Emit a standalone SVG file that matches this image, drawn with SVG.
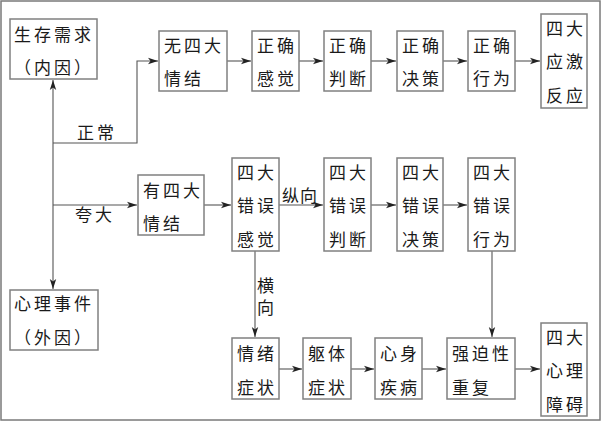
<svg xmlns="http://www.w3.org/2000/svg" width="602" height="421" viewBox="0 0 602 421">
<defs>
<style>
.frame{fill:#fff;stroke:#7a7a7a;stroke-width:1.5}
.box rect{fill:#fff;stroke:#808080;stroke-width:1.5}
text{font-family:"Liberation Serif","Noto Sans CJK SC",serif;font-size:17px;fill:#1a1a1a;letter-spacing:3px}
.lbl{letter-spacing:3px}
#connectors path{fill:none;stroke:#555;stroke-width:1.1}
</style>
<marker id="ah" markerUnits="userSpaceOnUse" markerWidth="10" markerHeight="8" refX="10" refY="4" orient="auto">
<path d="M0,0.8 L10,4 L0,7.2 L2.5,4 z" fill="#222"/>
</marker>
</defs>
<rect class="frame" x="1" y="1" width="599" height="419"/>

<g id="connectors">
<path d="M53,143 V80" marker-end="url(#ah)"/>
<path d="M53,143 V289" marker-end="url(#ah)"/>
<path d="M53,143 H137 V61 H158" marker-end="url(#ah)"/>
<path d="M53,205 H137" marker-end="url(#ah)"/>
<path d="M227,61 H251" marker-end="url(#ah)"/>
<path d="M299,61 H323" marker-end="url(#ah)"/>
<path d="M371,61 H396" marker-end="url(#ah)"/>
<path d="M443,61 H467" marker-end="url(#ah)"/>
<path d="M515,61 H540" marker-end="url(#ah)"/>
<path d="M204,205 H231" marker-end="url(#ah)"/>
<path d="M279,205 H323" marker-end="url(#ah)"/>
<path d="M371,205 H396" marker-end="url(#ah)"/>
<path d="M443,205 H467" marker-end="url(#ah)"/>
<path d="M255,251 V337" marker-end="url(#ah)"/>
<path d="M492,251 V337" marker-end="url(#ah)"/>
<path d="M279,369 H302" marker-end="url(#ah)"/>
<path d="M351,369 H374" marker-end="url(#ah)"/>
<path d="M422,369 H446" marker-end="url(#ah)"/>
<path d="M515,369 H540" marker-end="url(#ah)"/>
<text x="77" y="139" class="lbl">正常</text>
<text x="75" y="220.5" class="lbl">夸大</text>
<text x="282" y="201.5" style="letter-spacing:1px">纵向</text>
<text x="257" y="291.5">横</text>
<text x="257" y="314">向</text>
</g>

<g id="n_neiyin" class="box"><rect x="10" y="19" width="87" height="60"/><text x="14" y="40.5">生存需求</text><text x="14" y="73.5">（内因）</text></g>
<g id="n_waiyin" class="box"><rect x="10" y="290" width="88" height="60"/><text x="14" y="309.5">心理事件</text><text x="14" y="343.5">（外因）</text></g>

<g id="n_wu" class="box"><rect x="159" y="31" width="68" height="60"/><text x="164" y="51.5">无四大</text><text x="164" y="84.5">情结</text></g>
<g id="n_zq_gj" class="box"><rect x="252" y="31" width="47" height="60"/><text x="257" y="51.5">正确</text><text x="257" y="84.5">感觉</text></g>
<g id="n_zq_pd" class="box"><rect x="324" y="31" width="47" height="60"/><text x="329" y="51.5">正确</text><text x="329" y="84.5">判断</text></g>
<g id="n_zq_jc" class="box"><rect x="397" y="31" width="46" height="60"/><text x="402" y="51.5">正确</text><text x="402" y="84.5">决策</text></g>
<g id="n_zq_xw" class="box"><rect x="468" y="31" width="47" height="60"/><text x="473" y="51.5">正确</text><text x="473" y="84.5">行为</text></g>
<g id="n_yingji" class="box"><rect x="541" y="14" width="46" height="94"/><text x="546" y="34.5">四大</text><text x="546" y="68">应激</text><text x="546" y="101.5">反应</text></g>

<g id="n_you" class="box"><rect x="138" y="175" width="66" height="60"/><text x="143" y="196.5">有四大</text><text x="143" y="229.5">情结</text></g>
<g id="n_cw_gj" class="box"><rect x="232" y="158" width="47" height="93"/><text x="237" y="178.5">四大</text><text x="237" y="212">错误</text><text x="237" y="245.5">感觉</text></g>
<g id="n_cw_pd" class="box"><rect x="324" y="158" width="47" height="93"/><text x="329" y="178.5">四大</text><text x="329" y="212">错误</text><text x="329" y="245.5">判断</text></g>
<g id="n_cw_jc" class="box"><rect x="397" y="158" width="46" height="93"/><text x="402" y="178.5">四大</text><text x="402" y="212">错误</text><text x="402" y="245.5">决策</text></g>
<g id="n_cw_xw" class="box"><rect x="468" y="158" width="47" height="93"/><text x="473" y="178.5">四大</text><text x="473" y="212">错误</text><text x="473" y="245.5">行为</text></g>

<g id="n_qx" class="box"><rect x="232" y="338" width="47" height="61"/><text x="237" y="359.5">情绪</text><text x="237" y="393.5">症状</text></g>
<g id="n_qt" class="box"><rect x="303" y="338" width="48" height="61"/><text x="308" y="359.5">躯体</text><text x="308" y="393.5">症状</text></g>
<g id="n_xs" class="box"><rect x="375" y="338" width="47" height="61"/><text x="380" y="359.5">心身</text><text x="380" y="393.5">疾病</text></g>
<g id="n_qp" class="box"><rect x="447" y="338" width="68" height="61"/><text x="452" y="359.5">强迫性</text><text x="452" y="393.5">重复</text></g>
<g id="n_za" class="box"><rect x="541" y="323" width="46" height="93"/><text x="546" y="343.5">四大</text><text x="546" y="377">心理</text><text x="546" y="410.5">障碍</text></g>
</svg>
